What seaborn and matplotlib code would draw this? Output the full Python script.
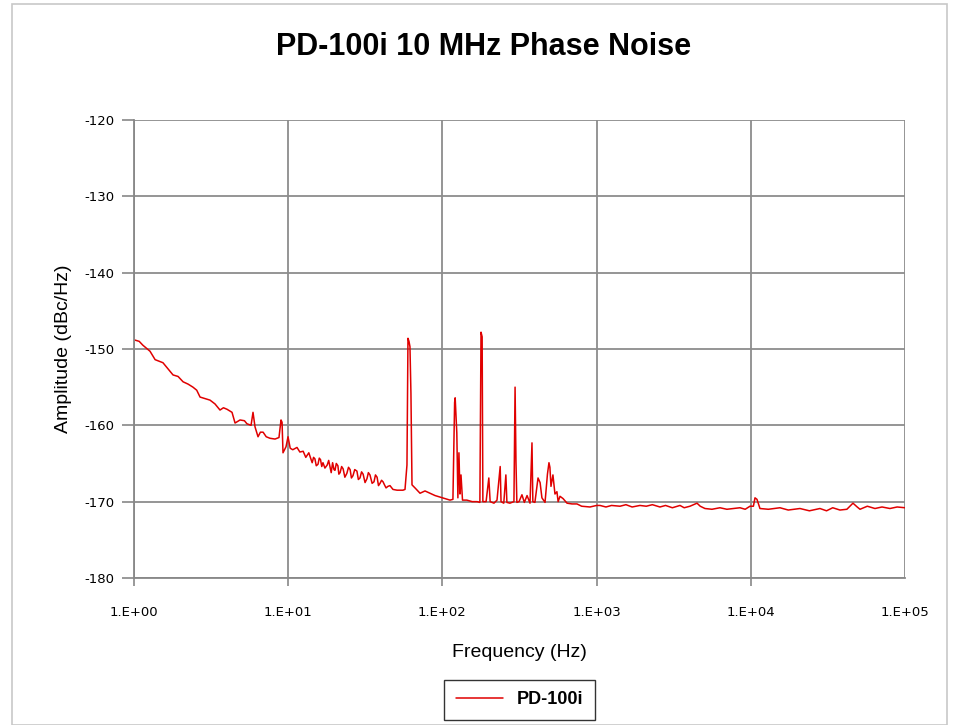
import numpy as np
import pandas as pd
import matplotlib
matplotlib.use('Agg')
import matplotlib.pyplot as plt
import seaborn as sns
from matplotlib.patches import Rectangle

# trace: frequency (Hz) and amplitude (dBc/Hz)
freq_low = [1.0, 1.08, 1.14, 1.27, 1.37, 1.45, 1.54, 1.66, 1.79, 1.93, 2.08, 2.24, 2.41, 2.55,
            2.68, 2.89, 3.11, 3.35, 3.61, 3.80, 4.01, 4.32, 4.52, 4.87, 5.20, 5.40, 5.74, 5.91,
            6.09, 6.37, 6.60, 6.87, 7.2, 7.62, 8.21, 8.71, 8.98, 9.12, 9.25, 9.68, 9.97, 10.3,
            10.7, 11.4, 11.9, 12.5, 13.0, 13.6,
            14.3, 14.6, 14.9, 15.2, 15.6, 15.9, 16.2, 16.5, 16.8, 17.3, 17.9, 18.3, 18.7, 19.0,
            19.4, 19.8, 20.1, 20.5, 21.0, 21.3, 21.7, 22.2, 22.7, 23.3, 24.0, 24.6, 25.2, 25.7,
            26.3, 27.0, 27.9, 28.5, 29.2, 29.9, 30.6, 31.5, 32.4, 33.1, 33.9, 35.0, 36.0, 36.8,
            37.7, 38.5, 39.4, 40.3, 41.2, 42.1, 43.1, 44.3, 45.7, 47.8, 50.8, 53.1, 55.5, 57.2]
amp_low = [-148.8, -149.0, -149.5, -150.3, -151.4, -151.6, -151.8, -152.6, -153.4, -153.6, -154.3,
           -154.6, -155.0, -155.4, -156.3, -156.5, -156.7, -157.2, -158.0, -157.7, -157.9, -158.3,
           -159.7, -159.3, -159.4, -159.8, -160.0, -158.3, -160.2, -161.5, -160.9, -160.9, -161.5,
           -161.7, -161.8, -161.6, -159.3, -159.6, -163.6, -162.8, -161.5, -163.0, -163.2, -162.9,
           -163.5, -163.4, -164.2, -163.6,
           -164.9, -164.2, -164.4, -165.3, -165.1, -164.3, -164.5, -165.4, -164.9, -165.6, -165.2,
           -164.6, -165.5, -166.2, -164.9, -165.8, -165.9, -165.0, -165.3, -166.4, -166.2, -165.4,
           -165.7, -166.8, -166.3, -165.5, -165.8, -166.9, -166.6, -165.8, -166.0, -167.1, -166.9,
           -166.1, -166.4, -167.5, -167.0, -166.2, -166.5, -167.6, -167.4, -166.5, -166.8, -167.9,
           -167.6, -167.2, -167.4, -167.8, -168.2, -168.0, -167.9, -168.4, -168.5, -168.5, -168.5,
           -168.4]

freq_spur = [58.9, 59.8, 60.7, 61.6, 62.5, 63.5, 66.4, 71.6, 77.1, 83.1, 89.5, 96.4, 104, 112,
             117, 120, 121, 124, 126, 128, 130, 132, 135, 144, 156, 168, 175, 178, 181, 183,
             192, 200, 204, 216, 226, 237, 240, 250, 258, 262, 274, 291, 296, 300, 304, 314,
             328, 340, 354, 370, 381, 386, 398, 417, 430, 442, 463, 480, 491, 498, 506, 521,
             537, 553, 563, 579, 606, 643, 692, 746, 800, 906]
amp_spur = [-165.2, -148.6, -149.0, -149.7, -155.8, -167.8, -168.2, -168.9, -168.6, -168.9, -169.2,
            -169.4, -169.6, -169.8, -169.7, -157.0, -156.4, -161.0, -169.5, -163.6, -169.0, -166.5,
            -169.8, -169.8, -170.0, -170.0, -170.1, -147.8, -148.4, -170.0, -170.0, -166.9, -170.0,
            -170.2, -169.8, -165.4, -170.0, -170.2, -166.5, -170.1, -170.2, -170.0, -155.0, -164.8,
            -170.1, -170.0, -169.1, -170.1, -169.2, -170.2, -162.3, -170.0, -170.1, -166.9, -167.5,
            -169.5, -170.1, -166.4, -164.9, -165.5, -168.0, -166.5, -169.0, -168.7, -170.0, -169.3,
            -169.6, -170.2, -170.3, -170.3, -170.6, -170.7]

freq_high = [1000, 1052, 1150, 1250, 1419, 1550, 1700, 1910, 2100, 2300, 2576, 2800, 3100, 3474,
             3700, 4034, 4480, 4700, 5045, 5600, 6310, 7000, 7700, 8510, 9200, 9885, 10400, 10650,
             10970, 11470, 13000, 15460, 17500, 20840, 24000, 28100, 31000, 34000, 37870, 42000,
             46000, 49000, 51100, 57000, 63900, 71000, 79900, 89000, 100000]
amp_high = [-170.5, -170.5, -170.7, -170.5, -170.6, -170.4, -170.7, -170.5, -170.6, -170.4, -170.7,
            -170.5, -170.8, -170.5, -170.8, -170.6, -170.2, -170.6, -170.9, -171.0, -170.8, -171.0,
            -170.9, -170.8, -171.0, -170.6, -170.6, -169.5, -169.7, -170.9, -171.0, -170.8, -171.1,
            -170.9, -171.2, -170.9, -171.2, -170.8, -171.1, -171.0, -170.2, -170.7, -171.0, -170.6,
            -170.9, -170.7, -170.9, -170.7, -170.8]

x_ticks = [1, 10, 100, 1000, 10000, 100000]
x_tick_labels = ['1.E+00', '1.E+01', '1.E+02', '1.E+03', '1.E+04', '1.E+05']
y_ticks = [-180, -170, -160, -150, -140, -130, -120]

df = pd.DataFrame({'Frequency': freq_low + freq_spur + freq_high,
                   'Amplitude': amp_low + amp_spur + amp_high})

sns.set_style('white')
plt.rcParams['font.family'] = ['Liberation Sans', 'DejaVu Sans']
plt.rcParams['text.color'] = 'black'
plt.rcParams['axes.labelcolor'] = 'black'
plt.rcParams['xtick.color'] = 'black'
plt.rcParams['ytick.color'] = 'black'

fig = plt.figure(figsize=(9.54, 7.25), dpi=100)
ax = fig.add_axes([0.1405, 0.2028, 0.8081, 0.6317])

sns.lineplot(data=df, x='Frequency', y='Amplitude', ax=ax, color='#e00000',
             linewidth=1.1, estimator=None, sort=False, label='PD-100i')

ax.set_xscale('log')
ax.set_xlim(1, 100000)
ax.set_ylim(-180, -120)
ax.set_xticks(x_ticks)
ax.set_xticklabels(x_tick_labels, fontsize=9.5, family='DejaVu Sans')
ax.minorticks_off()
ax.set_yticks(y_ticks)
ax.set_yticklabels([str(v) for v in y_ticks], fontsize=9.5, family='DejaVu Sans')
ax.tick_params(axis='both', direction='out', width=1.2, color='#888888',
               bottom=True, left=True)
ax.tick_params(axis='x', length=6, pad=14)
ax.tick_params(axis='y', length=9, pad=5)
ax.xaxis.get_major_ticks()[-1].tick1line.set_visible(False)
ax.grid(True, color='#8c8c8c', linewidth=1.3)
for side in ['top', 'right']:
    ax.spines[side].set_visible(False)
for side in ['left', 'bottom']:
    ax.spines[side].set_color('#888888')
    ax.spines[side].set_linewidth(1.3)

ax.set_xlabel('Frequency (Hz)', fontsize=14, labelpad=18)
ax.set_ylabel('Amplitude (dBc/Hz)', fontsize=14, labelpad=9)

fig.text(484 / 954, 1 - 47 / 725, 'PD-100i 10 MHz Phase Noise', ha='center', va='center',
         fontsize=22, fontweight='bold')

leg = ax.legend(loc='center', bbox_to_anchor=(0.5, -0.266), frameon=True, fancybox=False,
                prop={'weight': 'bold', 'size': 13}, handlelength=2.6, borderpad=0.65)
leg.get_frame().set_edgecolor('black')
leg.get_frame().set_linewidth(1.0)

fig.patches.append(Rectangle((12 / 954, 0), 935 / 954, 1 - 4 / 725, transform=fig.transFigure,
                             fill=False, edgecolor='#c8c8c8', linewidth=1.2))

fig.savefig('out.png', dpi=100)
